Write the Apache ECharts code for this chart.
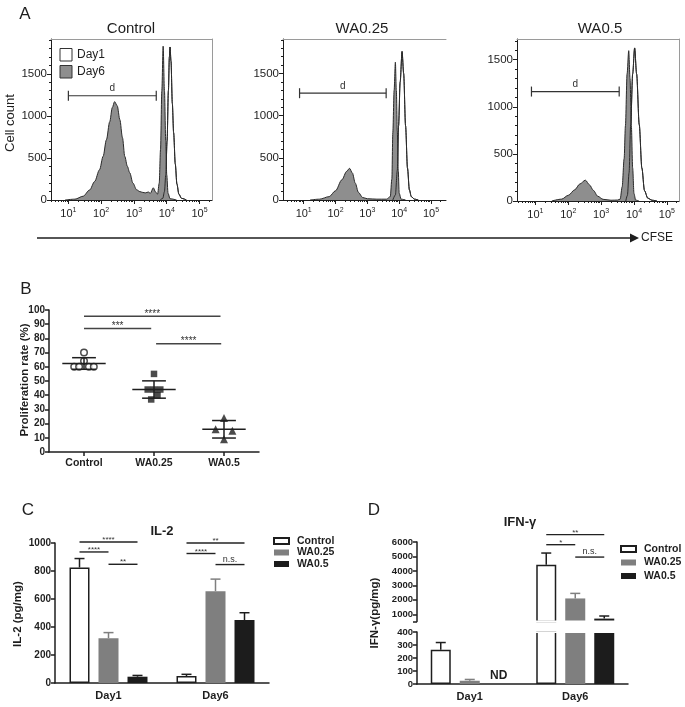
<!DOCTYPE html>
<html><head><meta charset="utf-8">
<script src="https://cdn.jsdelivr.net/npm/echarts@6/dist/echarts.min.js"></script>
<style>html,body{margin:0;padding:0;background:#fff}#c{width:685px;height:707px}</style>
</head><body><div id="c"></div>
<script>
// ================= DATA =================
// Panel A : CFSE histograms  [log10(CFSE), cell count]
const histTitles = ['Control', 'WA0.25', 'WA0.5'];
const decadeTicks = [1, 2, 3, 4, 5];
const countTicks = [0, 500, 1000, 1500];
const ctrlDay1 = [[3.8,0],[3.88,20],[3.93,100],[3.97,300],[4.01,700],[4.05,1300],[4.08,1700],[4.1,1820],[4.13,1650],[4.17,1150],[4.21,800],[4.26,430],[4.31,190],[4.37,70],[4.45,20],[4.6,0]];
const ctrlDay6 = [[0.9,0],[1.2,10],[1.45,45],[1.65,120],[1.8,220],[1.95,360],[2.06,520],[2.16,717],[2.26,930],[2.34,1100],[2.41,1170],[2.49,1120],[2.57,955],[2.65,740],[2.72,519],[2.8,400],[2.87,325],[2.97,200],[3.08,122],[3.18,100],[3.27,90],[3.35,85],[3.44,95],[3.5,80],[3.59,145],[3.66,95],[3.72,70],[3.77,200],[3.81,600],[3.85,1300],[3.89,1830],[3.93,1300],[3.97,700],[4.0,300],[4.04,80],[4.1,15],[4.3,0]];
const wa025Day1 = [[3.8,0],[3.88,60],[3.94,350],[3.98,880],[4.03,1400],[4.09,1762],[4.14,1500],[4.2,880],[4.26,380],[4.32,120],[4.38,40],[4.48,10],[4.6,0]];
const wa025Day6 = [[1.2,0],[1.5,10],[1.8,40],[2.0,110],[2.2,240],[2.35,340],[2.44,376],[2.53,320],[2.62,200],[2.72,90],[2.85,30],[3.0,15],[3.3,10],[3.6,10],[3.72,40],[3.77,250],[3.8,800],[3.84,1300],[3.88,1635],[3.91,1300],[3.94,820],[3.97,350],[4.0,80],[4.06,10],[4.2,0]];
const wa05Day1 = [[3.75,0],[3.8,60],[3.85,300],[3.9,812],[3.96,1350],[4.02,1625],[4.08,1350],[4.16,812],[4.24,350],[4.32,110],[4.42,30],[4.55,8],[4.7,0]];
const wa05Day6 = [[1.5,0],[1.8,20],[2.0,60],[2.2,120],[2.35,180],[2.52,221],[2.65,170],[2.76,114],[2.9,50],[3.06,18],[3.3,8],[3.5,10],[3.58,20],[3.64,150],[3.7,450],[3.74,800],[3.79,1350],[3.84,1596],[3.88,1300],[3.92,800],[3.96,350],[4.0,80],[4.05,10],[4.15,0]];
const gateLabel = 'd';
const ctrlGate = [1.0, 3.68, 1240];
const wa025Gate = [0.87, 3.59, 1267];
const wa05Gate = [0.88, 3.55, 1162];
const histCountMax = [1915, 1910, 1720];
const histLogRange = [[0.47, 5.38], [0.35, 5.47], [0.44, 5.37]];

// Panel B : proliferation rate (%)
const propGroups = ['Control', 'WA0.25', 'WA0.5'];
const propControl = [70, 64, 60, 60, 60, 60];
const propWA025 = [55, 44, 44, 44, 40, 37];
const propWA05 = [24, 16, 15, 9];
const propSpreadControl = [0, 0, -0.14, -0.07, 0.07, 0.14];
const propSpreadWA025 = [0, -0.09, 0, 0.09, 0.05, -0.04];
const propSpreadWA05 = [0, -0.12, 0.12, 0];
const propSig = [[0, 1.95, 95.6, '****'], [0, 0.96, 87, '***'], [1.03, 1.96, 76.3, '****']];

// Panel C : IL-2 (pg/mg)
const days = ['Day1', 'Day6'];
const treatments = ['Control', 'WA0.25', 'WA0.5'];
const il2Control = [825, 50];
const il2WA025 = [320, 656];
const il2WA05 = [45, 450];
const il2ControlSem = [64, 12];
const il2WA025Sem = [40, 86];
const il2WA05Sem = [9, 52];
const il2Sig = [[0,0,2,1007,'****'],[0,0,1,936,'****'],[0,1,2,848,'**'],[1,0,2,1000,'**'],[1,0,1,925,'****'],[1,1,2,846,'n.s.']];

// Panel D : IFN-gamma (pg/mg), broken axis
const ifnControl = [264, 4420];
const ifnWA025 = [25, 2095];
const ifnWA05 = [null, 700];
const ifnControlSem = [55, 816];
const ifnWA025Sem = [10, 350];
const ifnWA05Sem = [null, 180];
const ifnSig = [[1,0,2,6513,'**'],[1,0,1,5815,'*'],[1,1,2,4957,'n.s.']];
const ifnLowTicks = [0, 100, 200, 300, 400];
const ifnHighTicks = [1000, 2000, 3000, 4000, 5000, 6000];
const ifnBreakLow = 400, ifnBreakHigh = 500;
const notDetected = 'ND';

// ================= CHART =================
const FONT = "'Liberation Sans', Arial, Helvetica, sans-serif";
const INK = '#1e1e1e';
const plain = v => String(v);
const chart = echarts.init(document.getElementById('c'));
const grid = [], xAxis = [], yAxis = [], series = [], graphic = [];
function G(o){ grid.push(Object.assign({containLabel:false, outerBoundsMode:'none'}, o)); return grid.length-1; }
function X(o){ xAxis.push(Object.assign({splitLine:{show:false}}, o)); return xAxis.length-1; }
function Y(o){ yAxis.push(Object.assign({splitLine:{show:false}}, o)); return yAxis.length-1; }
const txt = (text, x, y, o) => ({type:'text', x, y, silent:true, rotation:(o&&o.rot)||0,
  style:Object.assign({text, align:'center', verticalAlign:'middle', fontFamily:FONT, fontSize:12, fill:INK}, (o&&o.s)||{})});

// ---------- Panel A ----------
const histLayout = [
  {left:51, top:39, width:161, height:161, rightBorder:true},
  {left:283, top:39, width:163, height:161, rightBorder:false},
  {left:517, top:39, width:162, height:162, rightBorder:true}
];
const histTitleX = [131, 362, 600];
const histDay1 = [ctrlDay1, wa025Day1, wa05Day1];
const histDay6 = [ctrlDay6, wa025Day6, wa05Day6];
const histGates = [ctrlGate, wa025Gate, wa05Gate];
const minorLog = [];
for (let d = 0; d < 6; d++) for (let k = 2; k <= 9; k++) minorLog.push(d + Math.log10(k));
const minorCount = [];
for (let v = 100; v < 2000; v += 100) if (v % 500) minorCount.push(v);

histLayout.forEach((L, i) => {
  const gi = G({left:L.left, top:L.top, width:L.width, height:L.height});
  const lo = histLogRange[i][0], hi = histLogRange[i][1], cmax = histCountMax[i];
  const xi = X({gridIndex:gi, type:'value', position:'bottom', min:lo, max:hi,
    axisLine:{onZero:false, lineStyle:{color:INK, width:1}},
    axisTick:{customValues:decadeTicks, length:4, lineStyle:{color:INK}},
    axisLabel:{customValues:decadeTicks, margin:7, formatter:v => '{b|10}{s|' + v + '}',
      rich:{b:{fontFamily:FONT, fontSize:11, color:INK}, s:{fontFamily:FONT, fontSize:7, color:INK, padding:[0,0,7,0]}}}});
  X({gridIndex:gi, type:'value', position:'bottom', min:lo, max:hi, axisLine:{show:false},
    axisTick:{customValues:minorLog.filter(v => v > lo && v < hi), length:2, lineStyle:{color:INK}}, axisLabel:{show:false}});
  X({gridIndex:gi, type:'value', position:'top', min:lo, max:hi, axisLine:{onZero:false, lineStyle:{color:'#9a9a9a'}},
    axisTick:{show:false}, axisLabel:{show:false}});
  const yi = Y({gridIndex:gi, type:'value', position:'left', min:0, max:cmax,
    axisLine:{show:true, onZero:false, lineStyle:{color:INK}},
    axisTick:{show:true, customValues:countTicks, length:4, lineStyle:{color:INK}},
    axisLabel:{customValues:countTicks, formatter:plain, margin:4, fontFamily:FONT, fontSize:11.5, color:INK}});
  Y({gridIndex:gi, type:'value', position:'left', min:0, max:cmax, axisLine:{show:false},
    axisTick:{show:true, customValues:minorCount.filter(v => v < cmax), length:2, lineStyle:{color:INK}}, axisLabel:{show:false}});
  if (L.rightBorder) Y({gridIndex:gi, type:'value', position:'right', min:0, max:cmax,
    axisLine:{show:true, onZero:false, lineStyle:{color:'#9a9a9a'}}, axisTick:{show:false}, axisLabel:{show:false}});
  const base = {type:'line', xAxisIndex:xi, yAxisIndex:yi, showSymbol:false, symbol:'none', smooth:0.3,
    smoothMonotone:'x', silent:true};
  series.push(Object.assign({}, base, {name:'Day1', data:histDay1[i], lineStyle:{color:'#2a2a2a', width:1},
    areaStyle:{color:'#ffffff', opacity:1}, z:2}));
  series.push(Object.assign({}, base, {name:'Day6', data:histDay6[i], lineStyle:{color:'#2a2a2a', width:1},
    areaStyle:{color:'#8e8e8e', opacity:1}, z:3}));
  series.push(Object.assign({}, base, {name:'Day1 line', data:histDay1[i], lineStyle:{color:'#2a2a2a', width:1}, z:4}));
  const gate = histGates[i];
  series.push({type:'custom', xAxisIndex:xi, yAxisIndex:yi, z:5, silent:true, data:[[gate[0], gate[2]]],
    renderItem:(p, api) => {
      const a = api.coord([gate[0], gate[2]]), b = api.coord([gate[1], gate[2]]);
      const st = {stroke:'#333', lineWidth:1.2};
      return {type:'group', children:[
        {type:'line', shape:{x1:a[0], y1:a[1], x2:b[0], y2:b[1]}, style:st},
        {type:'line', shape:{x1:a[0], y1:a[1]-5, x2:a[0], y2:a[1]+5}, style:st},
        {type:'line', shape:{x1:b[0], y1:b[1]-5, x2:b[0], y2:b[1]+5}, style:st},
        {type:'text', style:{text:gateLabel, x:(a[0]+b[0])/2, y:a[1]-2, align:'center', verticalAlign:'bottom',
          fontFamily:FONT, fontSize:10, fill:'#333'}}]};
    }});
  graphic.push(txt(histTitles[i], histTitleX[i], 29, {s:{fontSize:15}}));
});
graphic.push(txt('A', 25, 14, {s:{fontSize:17}}));
graphic.push(txt('Cell count', 10, 123, {rot:Math.PI/2, s:{fontSize:13}}));
graphic.push({type:'rect', shape:{x:60, y:48.5, width:12, height:12.5}, style:{fill:'#fff', stroke:'#333', lineWidth:1}, silent:true});
graphic.push({type:'rect', shape:{x:60, y:65.5, width:12, height:12.5}, style:{fill:'#8e8e8e', stroke:'#333', lineWidth:1}, silent:true});
graphic.push(txt('Day1', 77, 55, {s:{align:'left', fontSize:12}}));
graphic.push(txt('Day6', 77, 72, {s:{align:'left', fontSize:12}}));
graphic.push({type:'line', shape:{x1:37, y1:238, x2:631, y2:238}, style:{stroke:INK, lineWidth:1.5}, silent:true});
graphic.push({type:'polygon', shape:{points:[[630,233.5],[639,238],[630,242.5]]}, style:{fill:INK}, silent:true});
graphic.push(txt('CFSE', 641, 238, {s:{align:'left', fontSize:12}}));

// ---------- Panel B ----------
const gb = G({left:49, top:310, width:210, height:142});
const bx = X({gridIndex:gb, type:'value', position:'bottom', min:-0.5, max:2.5,
  axisLine:{onZero:false, lineStyle:{color:INK, width:1.5}},
  axisTick:{customValues:[0,1,2], length:4, lineStyle:{color:INK, width:1.5}},
  axisLabel:{customValues:[0,1,2], formatter:v => propGroups[v], fontFamily:FONT, fontWeight:'bold', fontSize:10.5, color:INK, margin:6}});
const by = Y({gridIndex:gb, type:'value', position:'left', min:0, max:100, interval:10,
  axisLine:{show:true, onZero:false, lineStyle:{color:INK, width:1.5}},
  axisTick:{show:true, length:4, lineStyle:{color:INK, width:1.5}},
  axisLabel:{fontFamily:FONT, fontWeight:'bold', fontSize:10, color:INK, margin:4}});
const propSets = [[propControl, propSpreadControl], [propWA025, propSpreadWA025], [propWA05, propSpreadWA05]];
const propMarks = [
  {symbol:'circle', size:6.5, style:{color:'#fff', borderColor:INK, borderWidth:1.5}},
  {symbol:'rect', size:6.5, style:{color:INK}},
  {symbol:'triangle', size:8, style:{color:INK}}];
propSets.forEach((set, g) => {
  series.push({type:'scatter', name:'prolif ' + propGroups[g], xAxisIndex:bx, yAxisIndex:by, silent:true,
    symbol:propMarks[g].symbol, symbolSize:propMarks[g].size, itemStyle:propMarks[g].style, z:3,
    data:set[0].map((v, k) => [g + set[1][k], v])});
});
const propStats = propSets.map((set, g) => {
  const v = set[0], n = v.length, m = v.reduce((a, b) => a + b, 0) / n;
  const sd = Math.sqrt(v.reduce((a, b) => a + (b - m) * (b - m), 0) / (n - 1));
  return [g, m, sd];
});
series.push({type:'custom', xAxisIndex:bx, yAxisIndex:by, z:4, silent:true, data:propStats.map(r => [r[0], r[1]]),
  renderItem:(p, api) => {
    const r = propStats[p.dataIndex];
    const c = api.coord([r[0], r[1]]), t = api.coord([r[0], r[1] + r[2]]), b = api.coord([r[0], r[1] - r[2]]);
    const half = api.size([0.31, 0])[0], cap = api.size([0.17, 0])[0];
    const st = {stroke:INK, lineWidth:1.5};
    return {type:'group', children:[
      {type:'line', shape:{x1:c[0]-half, y1:c[1], x2:c[0]+half, y2:c[1]}, style:st},
      {type:'line', shape:{x1:c[0], y1:t[1], x2:c[0], y2:b[1]}, style:st},
      {type:'line', shape:{x1:c[0]-cap, y1:t[1], x2:c[0]+cap, y2:t[1]}, style:st},
      {type:'line', shape:{x1:c[0]-cap, y1:b[1], x2:c[0]+cap, y2:b[1]}, style:st}]};
  }});
series.push({type:'custom', xAxisIndex:bx, yAxisIndex:by, z:4, silent:true, data:propSig.map(r => [r[0], r[2]]),
  renderItem:(p, api) => {
    const r = propSig[p.dataIndex];
    const a = api.coord([r[0], r[2]]), b = api.coord([r[1], r[2]]);
    return {type:'group', children:[
      {type:'line', shape:{x1:a[0], y1:a[1], x2:b[0], y2:b[1]}, style:{stroke:'#444', lineWidth:1.5}},
      {type:'text', style:{text:r[3], x:(a[0]+b[0])/2, y:a[1]+3, align:'center', verticalAlign:'bottom',
        fontFamily:FONT, fontSize:10, fill:'#333'}}]};
  }});
graphic.push(txt('B', 26, 289, {s:{fontSize:17}}));
graphic.push(txt('Proliferation rate (%)', 25, 380, {rot:Math.PI/2, s:{fontSize:11.5, fontWeight:'bold'}}));

// ---------- shared bar helpers ----------
const BAR_W = 20, BAR_STEP = 29;
const barStyles = [{color:'#ffffff', borderColor:INK, borderWidth:1.5}, {color:'#7f7f7f'}, {color:'#1c1c1c'}];
const errColors = [INK, '#7f7f7f', '#1c1c1c'];
function errorSeries(xi, yi, groups, sems, accept) {
  const rows = [];
  groups.forEach((vals, g) => vals.forEach((v, cat) => { if (v != null && accept(v)) rows.push([cat, v, g, sems[g][cat]]); }));
  return {type:'custom', xAxisIndex:xi, yAxisIndex:yi, z:5, silent:true, data:rows.map(r => [r[0], r[1]]),
    renderItem:(p, api) => {
      const r = rows[p.dataIndex];
      const a = api.coord([r[0], r[1]]), b = api.coord([r[0], r[1] + r[3]]);
      const x = a[0] + (r[2] - 1) * BAR_STEP;
      const st = {stroke:errColors[r[2]], lineWidth:1.5};
      return {type:'group', children:[
        {type:'line', shape:{x1:x, y1:a[1], x2:x, y2:b[1]}, style:st},
        {type:'line', shape:{x1:x-5, y1:b[1], x2:x+5, y2:b[1]}, style:st}]};
    }};
}
function bracketSeries(xi, yi, rows) {
  return {type:'custom', xAxisIndex:xi, yAxisIndex:yi, z:6, silent:true, data:rows.map(r => [r[0], r[3]]),
    renderItem:(p, api) => {
      const r = rows[p.dataIndex];
      const c = api.coord([r[0], r[3]]);
      const x1 = c[0] + (r[1] - 1) * BAR_STEP, x2 = c[0] + (r[2] - 1) * BAR_STEP;
      const ns = r[4] === 'n.s.';
      return {type:'group', children:[
        {type:'line', shape:{x1:x1, y1:c[1], x2:x2, y2:c[1]}, style:{stroke:'#222', lineWidth:1.4}},
        {type:'text', style:{text:r[4], x:(x1+x2)/2, y:ns ? c[1]-1 : c[1]+2, align:'center', verticalAlign:'bottom',
          fontFamily:FONT, fontSize:ns ? 9 : 8, fill:'#333'}}]};
    }};
}
const valueAxisStyle = {
  axisLine:{show:true, onZero:false, lineStyle:{color:INK, width:1.5}},
  axisTick:{show:true, length:4, lineStyle:{color:INK, width:1.5}}};
const boldLabel = {fontFamily:FONT, fontWeight:'bold', fontSize:10, color:INK, margin:4};

// ---------- Panel C ----------
const gc = G({left:55, top:543, width:214, height:140});
const cx = X({gridIndex:gc, type:'category', data:days, position:'bottom',
  axisLine:{onZero:false, lineStyle:{color:INK, width:1.5}}, axisTick:{show:false},
  axisLabel:{fontFamily:FONT, fontWeight:'bold', fontSize:11, color:INK, margin:7}});
const cy = Y(Object.assign({gridIndex:gc, type:'value', position:'left', min:0, max:1000, interval:200,
  axisLabel:Object.assign({formatter:plain}, boldLabel)}, valueAxisStyle));
const il2Groups = [il2Control, il2WA025, il2WA05];
const il2Sems = [il2ControlSem, il2WA025Sem, il2WA05Sem];
il2Groups.forEach((vals, g) => series.push({type:'bar', name:treatments[g], xAxisIndex:cx, yAxisIndex:cy,
  data:vals, barWidth:BAR_W, barGap:'45%', itemStyle:barStyles[g], z:2, silent:true}));
series.push(errorSeries(cx, cy, il2Groups, il2Sems, () => true));
series.push(bracketSeries(cx, cy, il2Sig));
graphic.push(txt('C', 28, 510, {s:{fontSize:17}}));
graphic.push(txt('IL-2', 162, 531, {s:{fontSize:13, fontWeight:'bold'}}));
graphic.push(txt('IL-2 (pg/mg)', 18, 614, {rot:Math.PI/2, s:{fontSize:11.5, fontWeight:'bold'}}));

// ---------- Panel D ----------
const gdu = G({left:417, top:542, width:211, height:79.5});
const gdl = G({left:417, top:632, width:211, height:52});
const dxu = X({gridIndex:gdu, type:'category', data:days, position:'bottom', show:false});
const dyu = Y({gridIndex:gdu, type:'value', position:'left', min:ifnBreakHigh, max:6000,
  axisLine:{show:true, onZero:false, lineStyle:{color:INK, width:1.5}},
  axisTick:{show:true, length:4, customValues:[ifnBreakHigh].concat(ifnHighTicks), lineStyle:{color:INK, width:1.5}},
  axisLabel:Object.assign({customValues:ifnHighTicks, formatter:plain}, boldLabel, {fontSize:9.5})});
const dxl = X({gridIndex:gdl, type:'category', data:days, position:'bottom',
  axisLine:{onZero:false, lineStyle:{color:INK, width:1.5}}, axisTick:{show:false},
  axisLabel:{fontFamily:FONT, fontWeight:'bold', fontSize:11, color:INK, margin:7}});
const dyl = Y({gridIndex:gdl, type:'value', position:'left', min:0, max:ifnBreakLow,
  axisLine:{show:true, onZero:false, lineStyle:{color:INK, width:1.5}},
  axisTick:{show:true, length:4, customValues:ifnLowTicks, lineStyle:{color:INK, width:1.5}},
  axisLabel:Object.assign({customValues:ifnLowTicks, formatter:plain}, boldLabel, {fontSize:9.5})});
const ifnGroups = [ifnControl, ifnWA025, ifnWA05];
const ifnSems = [ifnControlSem, ifnWA025Sem, ifnWA05Sem];
ifnGroups.forEach((vals, g) => {
  series.push({type:'bar', name:treatments[g], xAxisIndex:dxl, yAxisIndex:dyl, data:vals, clip:true,
    barWidth:BAR_W, barGap:'45%', itemStyle:barStyles[g], z:2, silent:true});
  series.push({type:'bar', name:treatments[g], xAxisIndex:dxu, yAxisIndex:dyu, clip:true,
    data:vals.map(v => (v != null && v >= ifnBreakHigh) ? v : null),
    barWidth:BAR_W, barGap:'45%', itemStyle:barStyles[g], z:2, silent:true});
});
series.push(errorSeries(dxl, dyl, ifnGroups, ifnSems, v => v <= ifnBreakLow));
series.push(errorSeries(dxu, dyu, ifnGroups, ifnSems, v => v >= ifnBreakHigh));
series.push(bracketSeries(dxu, dyu, ifnSig));
series.push({type:'custom', xAxisIndex:dxl, yAxisIndex:dyl, z:6, silent:true, data:[[0, 0]],
  renderItem:(p, api) => {
    const c = api.coord([0, 0]);
    return {type:'text', style:{text:notDetected, x:c[0] + BAR_STEP, y:c[1] - 8, align:'center', verticalAlign:'middle',
      fontFamily:FONT, fontWeight:'bold', fontSize:12, fill:INK}};
  }});
// open ends of the broken bars (mask the clipped edges inside the axis break)
graphic.push({type:'rect', shape:{x:419, y:620.6, width:209, height:1.8}, style:{fill:'#fff'}, silent:true, z:100});
graphic.push({type:'rect', shape:{x:419, y:631.3, width:209, height:1.8}, style:{fill:'#fff'}, silent:true, z:100});
graphic.push(txt('D', 374, 510, {s:{fontSize:17}}));
graphic.push(txt('IFN-\u03b3', 520, 522, {s:{fontSize:13, fontWeight:'bold'}}));
graphic.push(txt('IFN-\u03b3(pg/mg)', 375, 613, {rot:Math.PI/2, s:{fontSize:11.5, fontWeight:'bold'}}));

const legendBase = {orient:'vertical', icon:'rect', itemWidth:15, itemHeight:6, selectedMode:false, padding:0,
  data:treatments, textStyle:{fontFamily:FONT, fontWeight:'bold', fontSize:10.5, color:INK, lineHeight:11, padding:[0,0,0,3]}};

chart.setOption({
  animation:false,
  backgroundColor:'#ffffff',
  grid, xAxis, yAxis, series, graphic,
  legend:[
    Object.assign({}, legendBase, {left:273, top:535.5, itemGap:0.5}),
    Object.assign({}, legendBase, {left:620, top:543.5, itemGap:2.5})
  ]
});
</script>
</body></html>
